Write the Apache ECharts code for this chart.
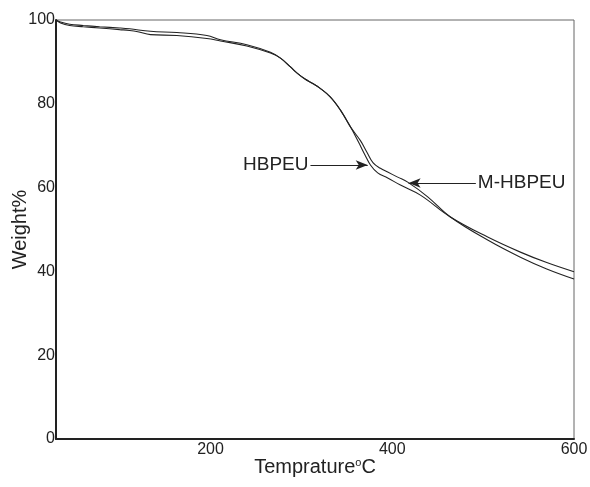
<!DOCTYPE html>
<html><head><meta charset="utf-8">
<script src="https://cdn.jsdelivr.net/npm/echarts@6/dist/echarts.min.js"></script>
<style>html,body{margin:0;padding:0;background:#fff}#c{width:590px;height:487px}</style>
</head><body><div id="c"></div>
<script>
const hbpeuTemp = [30, 35, 45, 60, 78, 100, 111, 120, 134, 163, 196, 211, 240, 266, 277, 288, 296, 304, 312, 320, 332, 343, 354, 363, 370, 376, 384, 395, 409, 431, 464, 505, 541, 570, 600];
const hbpeuWeight = [100, 99.3, 98.7, 98.4, 98.1, 97.7, 97.5, 97.2, 96.5, 96.3, 95.6, 95.0, 93.8, 92.1, 90.9, 88.8, 87.2, 85.9, 84.9, 83.8, 81.6, 78.5, 74.5, 70.8, 67.8, 65.4, 63.5, 62.3, 60.6, 58.2, 53.0, 48.2, 44.6, 42.1, 39.9];
const mTemp = [30, 35, 45, 60, 78, 100, 111, 134, 163, 196, 211, 240, 266, 277, 288, 296, 304, 312, 320, 332, 343, 354, 365, 372, 379, 387, 395, 406, 417, 439, 464, 505, 541, 570, 600];
const mWeight = [100, 99.5, 99.0, 98.7, 98.4, 98.1, 97.9, 97.3, 97.0, 96.3, 95.3, 94.1, 92.3, 90.9, 88.8, 87.2, 85.9, 84.9, 83.8, 81.6, 78.5, 74.5, 71.2, 68.5, 65.9, 64.6, 63.7, 62.5, 61.3, 57.8, 53.0, 47.5, 43.4, 40.6, 38.2];
const xTicks = [200, 400, 600];
const seriesNames = ['HBPEU', 'M-HBPEU'];
// annotation arrows [startTemp, tipTemp, weight]
const hbpeuArrow = [310, 373, 65.4];
const mArrow = [492, 418, 61.1];

const zip = (a, b) => a.map((v, i) => [v, b[i]]);
const font = 'Liberation Sans, Arial, sans-serif';
function arrowLine(arr, name) {
  return {
    silent: true,
    symbol: ['none', 'arrow'],
    symbolSize: [7, 12],
    lineStyle: { color: '#222', width: 1, type: 'solid' },
    label: { show: true, position: 'start', formatter: name, fontFamily: font, fontSize: 19, color: '#222', distance: 2 },
    data: [[{ coord: [arr[0], arr[2]] }, { coord: [arr[1], arr[2]] }]]
  };
}
const chart = echarts.init(document.getElementById('c'));
chart.setOption({
  animation: false,
  grid: { left: 56, right: 16, top: 20, bottom: 48, show: true, borderColor: '#666', borderWidth: 1, containLabel: false, outerBoundsMode: 'none' },
  xAxis: {
    type: 'value', min: 30, max: 600,
    name: 'Temprature{s|o}C', nameLocation: 'middle', nameGap: 18, nameMoveOverlap: false,
    nameTextStyle: { fontFamily: font, fontSize: 20, color: '#222', rich: { s: { fontSize: 11, verticalAlign: 'top', lineHeight: 11, padding: [0, 0, 11, 0], fontFamily: font, color: '#222' } } },
    axisLine: { show: true, lineStyle: { color: '#222', width: 2 } },
    axisTick: { show: false },
    splitLine: { show: false },
    axisLabel: { customValues: xTicks, fontFamily: font, fontSize: 16, color: '#222', margin: 3 }
  },
  yAxis: {
    type: 'value', min: 0, max: 100, interval: 20,
    name: 'Weight%', nameLocation: 'middle', nameGap: 26, nameMoveOverlap: false,
    nameTextStyle: { fontFamily: font, fontSize: 20, color: '#222' },
    axisLine: { show: true, lineStyle: { color: '#222', width: 2 } },
    axisTick: { show: false },
    splitLine: { show: false },
    axisLabel: { fontFamily: font, fontSize: 16, color: '#222', margin: 1 }
  },
  series: [
    { name: seriesNames[0], type: 'line', data: zip(hbpeuTemp, hbpeuWeight), showSymbol: false, smooth: 0.4,
      lineStyle: { color: '#222', width: 1.1 }, markLine: arrowLine(hbpeuArrow, seriesNames[0]) },
    { name: seriesNames[1], type: 'line', data: zip(mTemp, mWeight), showSymbol: false, smooth: 0.4,
      lineStyle: { color: '#222', width: 1.1 }, markLine: arrowLine(mArrow, seriesNames[1]) }
  ]
});
</script></body></html>
